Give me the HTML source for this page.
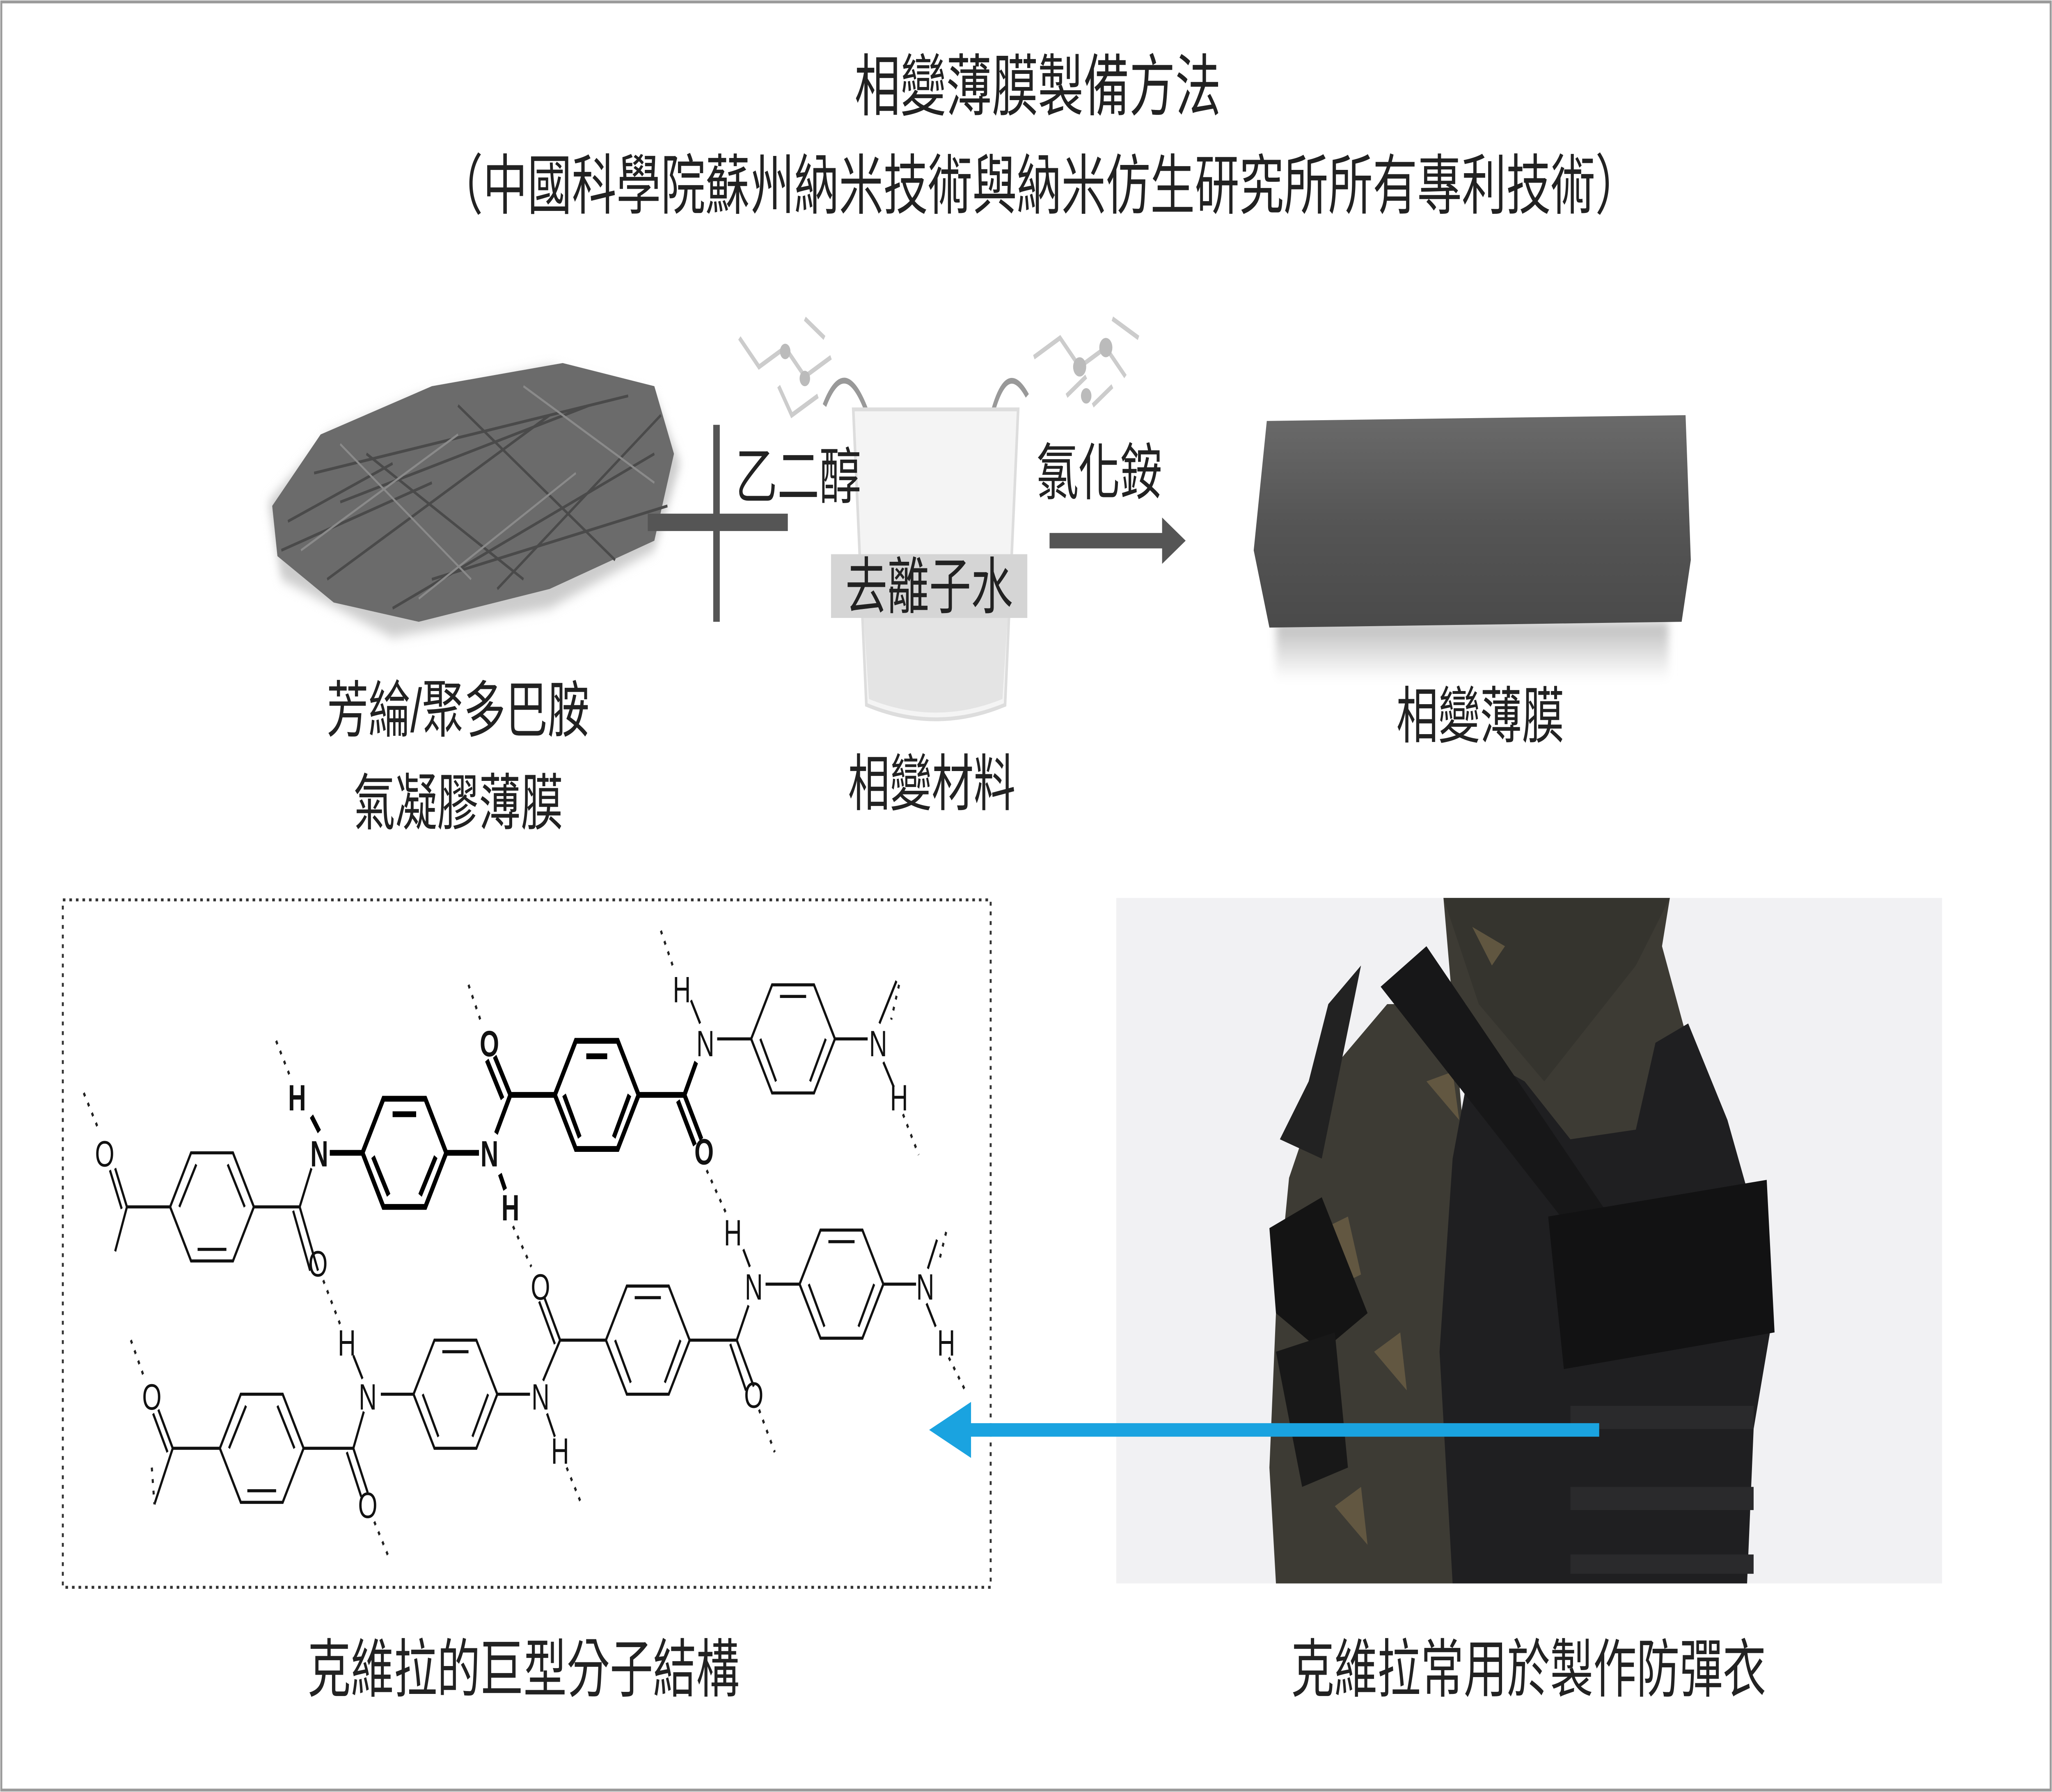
<!DOCTYPE html>
<html><head><meta charset="utf-8"><style>
html,body{margin:0;padding:0;background:#fff;width:100%;height:100%;overflow:hidden}
svg{display:block;width:100vw;height:100vh}
text{font-family:"Liberation Sans","Noto Sans CJK TC",sans-serif;fill:#222}
.c text{font-family:"Liberation Sans",sans-serif;fill:#111;text-anchor:middle}
</style></head><body>
<svg viewBox="0 0 1568 928" preserveAspectRatio="none" xmlns="http://www.w3.org/2000/svg">
<defs>
<linearGradient id="fg" x1="0" y1="0" x2="0" y2="1"><stop offset="0" stop-color="#6a6a6a"/><stop offset="0.5" stop-color="#555"/><stop offset="1" stop-color="#4a4a4a"/></linearGradient>
<linearGradient id="sh" x1="0" y1="0" x2="0" y2="1"><stop offset="0" stop-color="#bbb"/><stop offset="1" stop-color="#fff"/></linearGradient>
<filter id="bl"><feGaussianBlur stdDeviation="3"/></filter>
</defs>
<rect x="0" y="0" width="1568" height="928" fill="#fff"/>
<rect x="1" y="1" width="1566" height="926" fill="none" stroke="#9a9a9a" stroke-width="1.5"/>

<text x="793" y="57" font-size="35" text-anchor="middle">相變薄膜製備方法</text>
<text x="794" y="108" font-size="34" text-anchor="middle">（中國科學院蘇州納米技術與納米仿生研究所所有專利技術）</text>

<path d="M215,300 L300,330 L420,315 L500,285 L520,240 L500,205 L420,190 L320,205 L250,225 L205,260 Z" fill="#ccc" filter="url(#bl)"/>
<path d="M208,262 L245,225 L330,200 L430,188 L500,200 L515,235 L500,280 L420,305 L320,322 L255,312 L212,288 Z" fill="#6b6b6b"/>
<g stroke="#4a4a4a" stroke-width="1.5">
<path d="M220,270 L300,240 M250,300 L420,215 M300,315 L500,235 M240,245 L480,205 M330,300 L510,262 M280,235 L400,300 M350,210 L470,290 M215,285 L330,250 M380,305 L505,215 M260,260 L450,210"/>
</g>
<g stroke="#8a8a8a" stroke-width="1.2"><path d="M230,285 L350,225 M320,310 L440,245 M400,200 L500,250 M260,230 L360,300"/></g>

<rect x="545" y="220" width="5" height="102" fill="#555"/>
<rect x="495" y="266" width="107" height="9" fill="#555"/>

<g stroke="#ccc" stroke-width="2.5" fill="none">
<path d="M565,175 L580,190 L600,180 L615,195 L635,185 M595,200 L605,215 L625,205 M615,165 L630,175"/>
<path d="M790,185 L810,175 L825,190 L845,180 L860,195 M815,205 L830,195 M850,165 L870,175 M835,210 L850,200"/>
</g>
<g fill="#bbb"><circle cx="825" cy="190" r="5"/><circle cx="845" cy="180" r="5"/><circle cx="830" cy="205" r="4"/><circle cx="600" cy="182" r="4"/><circle cx="615" cy="196" r="4"/></g>
<path d="M630,210 Q650,175 672,235" stroke="#999" stroke-width="3" fill="none"/>
<path d="M785,205 Q765,180 752,235" stroke="#999" stroke-width="3" fill="none"/>
<path d="M652,212 L778,212 L768,365 Q715,380 662,365 Z" fill="#f4f4f4" stroke="#ddd" stroke-width="2"/>
<path d="M660,320 L770,320 L766,362 Q715,376 664,362 Z" fill="#e4e4e4"/>

<text x="562" y="258" font-size="32">乙二醇</text>
<text x="792" y="256" font-size="32">氯化銨</text>
<rect x="635" y="287" width="150" height="33" fill="#d5d5d5"/>
<text x="710" y="315" font-size="32" text-anchor="middle">去離子水</text>
<text x="712" y="417" font-size="32" text-anchor="middle">相變材料</text>

<rect x="802" y="276" width="88" height="8" fill="#555"/>
<path d="M888,268 L906,280 L888,292 Z" fill="#555"/>

<rect x="975" y="322" width="300" height="30" fill="url(#sh)" filter="url(#bl)"/>
<path d="M968,218 L1288,215 L1292,290 L1285,322 L970,325 L958,285 Z" fill="url(#fg)"/>
<text x="1131" y="382" font-size="32" text-anchor="middle">相變薄膜</text>

<text x="350" y="379" font-size="32" text-anchor="middle">芳綸/聚多巴胺</text>
<text x="350" y="427" font-size="32" text-anchor="middle">氣凝膠薄膜</text>

<rect x="48" y="466" width="709" height="356" fill="none" stroke="#333" stroke-width="1.5" stroke-dasharray="2,3"/>

<g class="c">
<g fill="none" stroke="#111" stroke-width="1.6">
<polygon points="130,625 146,597 178,597 194,625 178,653 146,653"/>
<path d="M137,625 L150,603 M174,603 L187,625 M151,647 L173,647"/>
<polygon points="574,538 590,510 622,510 638,538 622,566 590,566"/>
<path d="M596,516 L616,516 M581,538 L593,560 M631,538 L619,560"/>
<polygon points="611,665 627,637 659,637 675,665 659,693 627,693"/>
<path d="M633,643 L653,643 M618,665 L630,687 M668,665 L656,687"/>
<polygon points="463,694 479,666 511,666 527,694 511,722 479,722"/>
<path d="M485,672 L505,672 M470,694 L482,716 M520,694 L508,716"/>
<polygon points="316,722 332,694 364,694 380,722 364,750 332,750"/>
<path d="M338,700 L358,700 M323,722 L335,744 M373,722 L361,744"/>
<polygon points="168,750 184,722 216,722 232,750 216,778 184,778"/>
<path d="M175,750 L188,728 M212,728 L225,750 M189,772 L211,772"/>
<path d="M130,625 L97,625 L88,605 M93,626 L84,606 M97,625 L88,648"/>
<path d="M194,625 L229,625 L243,658 M224,627 L237,658 M229,625 L238,605"/>
<path d="M638,538 L663,538 M672,530 L685,508 M675,550 L683,563"/>
<path d="M548,538 L574,538 M535,530 L528,518"/>
<path d="M611,665 L585,665 M573,656 L568,647 M572,676 L563,694 L576,718 M558,696 L570,720 M563,694 L527,694"/>
<path d="M675,665 L700,665 M709,657 L716,642 M708,675 L715,687"/>
<path d="M463,694 L428,694 L416,672 M424,696 L412,674 M428,694 L415,715"/>
<path d="M380,722 L405,722 M418,732 L424,744"/>
<path d="M316,722 L291,722 M277,714 L270,702 M278,731 L270,750 L281,773 M265,752 L276,775 M270,750 L232,750"/>
<path d="M168,750 L132,750 L121,730 M128,752 L117,732 M132,750 L118,779"/>
</g>
<g fill="none" stroke="#000" stroke-width="3">
<polygon points="277,597 293,569 325,569 341,597 325,625 293,625"/>
<path d="M300,577 L318,577 M285,599 L297,619 M333,599 L321,619"/>
<polygon points="424,567 440,539 472,539 488,567 472,595 440,595"/>
<path d="M448,547 L464,547 M431,567 L443,589 M481,567 L469,589"/>
<path d="M252,597 L277,597 M341,597 L366,597 M244,586 L238,578 M382,608 L386,616"/>
<path d="M379,587 L390,567 L424,567 M390,567 L378,547 M384,569 L372,549"/>
<path d="M488,567 L523,567 L536,590 M518,570 L531,593 M523,567 L532,550"/>
</g>
<g stroke="#222" stroke-width="1.6" fill="none" stroke-dasharray="2,4">
<path d="M64,566 L76,586 M211,539 L222,558 M358,510 L368,530 M505,482 L515,502"/>
<path d="M540,606 L556,630 M392,635 L406,656 M247,663 L260,686"/>
<path d="M690,577 L702,598 M687,510 L681,528 M725,703 L739,722 M723,638 L718,652"/>
<path d="M580,730 L592,752 M433,760 L445,780 M286,788 L298,808 M100,694 L110,713 M116,760 L118,779"/>
</g>
<g font-size="19">
<text x="80" y="604">O</text><text x="243" y="661">O</text>
<text x="227" y="575" font-weight="bold">H</text><text x="244" y="604" font-weight="bold">N</text>
<text x="374" y="604" font-weight="bold">N</text><text x="390" y="632" font-weight="bold">H</text>
<text x="374" y="547" font-weight="bold">O</text><text x="538" y="603" font-weight="bold">O</text>
<text x="539" y="547">N</text><text x="521" y="519">H</text>
<text x="671" y="547">N</text><text x="687" y="575">H</text>
<text x="560" y="645">H</text><text x="576" y="673">N</text><text x="576" y="729">O</text>
<text x="413" y="673">O</text><text x="413" y="730">N</text><text x="428" y="758">H</text>
<text x="707" y="673">N</text><text x="723" y="702">H</text>
<text x="281" y="730">N</text><text x="265" y="702">H</text><text x="281" y="786">O</text>
<text x="116" y="730">O</text>
</g>
</g>

<rect x="853" y="465" width="631" height="355" fill="#f1f1f3"/>
<path d="M1103,465 L1276,465 L1270,490 L1290,540 L1300,600 L1200,620 L1120,520 L1060,520 L1010,560 L985,610 L975,680 L970,760 L975,820 L1110,820 L1110,700 L1120,600 Z" fill="#3d3b34"/>
<path d="M1103,465 L1130,520 L1180,560 L1250,500 L1276,465 Z" fill="#35342e"/>
<g fill="#6b5f45" opacity="0.8"><path d="M1000,640 L1030,630 L1040,660 L1010,670 Z M1050,700 L1070,690 L1075,720 Z M1090,560 L1110,555 L1115,580 Z M1125,480 L1150,490 L1140,500 Z M1020,780 L1040,770 L1045,800 Z"/></g>
<path d="M1110,820 L1100,700 L1110,600 L1125,545 L1165,560 L1200,590 L1250,585 L1265,540 L1290,530 L1320,580 L1345,640 L1355,680 L1340,740 L1335,820 Z" fill="#1f1f21"/>
<path d="M1055,511 L1090,490 L1230,630 L1210,645 Z" fill="#171718"/>
<path d="M1183,630 L1350,611 L1356,690 L1195,709 Z" fill="#121213"/>
<path d="M970,636 L1010,620 L1045,680 L1010,700 L975,680 Z" fill="#141414"/>
<path d="M975,700 L1020,690 L1030,760 L995,770 Z" fill="#181818"/>
<path d="M978,590 L1000,560 L1015,520 L1040,500 L1010,600 Z" fill="#222"/>
<g fill="#2a2a2c"><rect x="1200" y="728" width="140" height="12"/><rect x="1200" y="770" width="140" height="12"/><rect x="1200" y="805" width="140" height="10"/></g>

<rect x="735" y="737" width="487" height="7" fill="#1aa3e0"/>
<path d="M742,726 L710,740.5 L742,755 Z" fill="#1aa3e0"/>

<text x="400" y="876" font-size="33" text-anchor="middle">克維拉的巨型分子結構</text>
<text x="1168" y="876" font-size="33" text-anchor="middle">克維拉常用於製作防彈衣</text>
</svg>
</body></html>
